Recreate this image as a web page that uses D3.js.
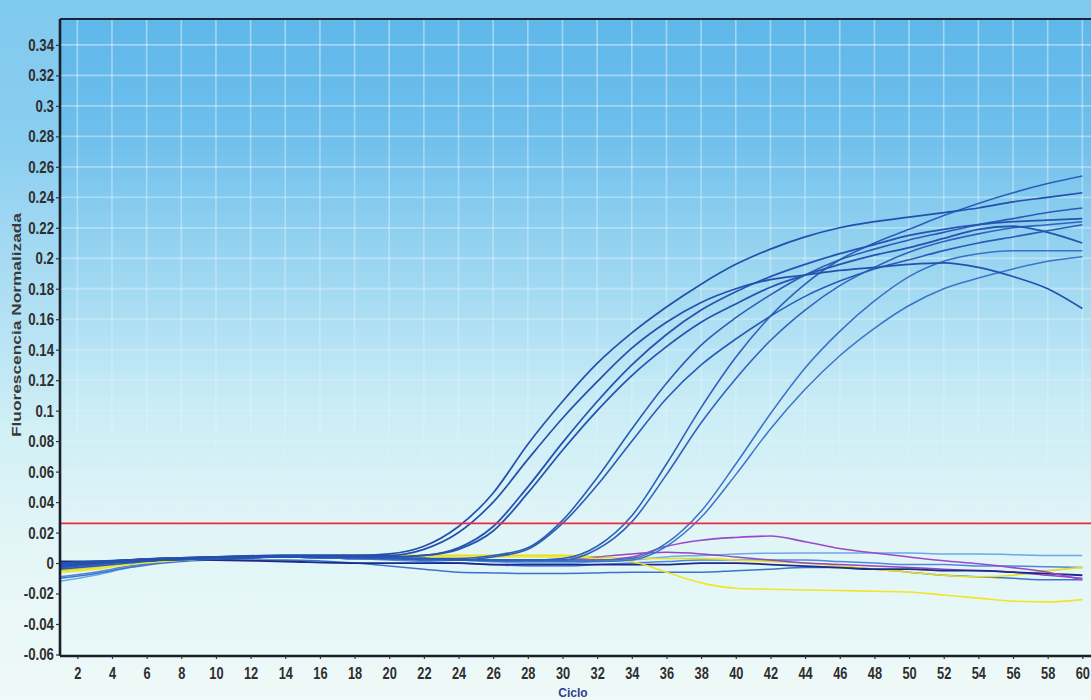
<!DOCTYPE html>
<html><head><meta charset="utf-8">
<script src="https://cdn.jsdelivr.net/npm/d3@7"></script>
<style>
html,body{margin:0;padding:0;background:#fff;}
svg{display:block;}
</style></head><body>
<svg id="chart" width="1091" height="700"></svg>
<script>
// ---------- data ----------
const cycles = [1,3,5,7,10,14,18,20,22,24,26,28,30,32,34,36,38,40,42,44,46,48,50,52,54,56,58,60];
const xTicks = [2,4,6,8,10,12,14,16,18,20,22,24,26,28,30,32,34,36,38,40,42,44,46,48,50,52,54,56,58,60];
const yTicks = [-0.06,-0.04,-0.02,0,0.02,0.04,0.06,0.08,0.1,0.12,0.14,0.16,0.18,0.2,0.22,0.24,0.26,0.28,0.3,0.32,0.34];
const threshold = 0.026;

// amplification curves
const ampA1 = [0.000,0.001,0.002,0.003,0.004,0.005,0.005,0.006,0.011,0.024,0.046,0.078,0.106,0.131,0.151,0.168,0.183,0.196,0.206,0.214,0.220,0.224,0.227,0.230,0.233,0.237,0.240,0.243];
const ampA2 = [-0.002,0.000,0.001,0.002,0.004,0.005,0.005,0.005,0.009,0.020,0.040,0.068,0.095,0.119,0.141,0.158,0.171,0.180,0.186,0.189,0.192,0.194,0.196,0.197,0.194,0.188,0.180,0.167];
const ampB1 = [0.000,0.001,0.002,0.003,0.004,0.004,0.004,0.004,0.005,0.010,0.024,0.050,0.079,0.106,0.130,0.150,0.166,0.178,0.188,0.196,0.203,0.209,0.215,0.219,0.222,0.224,0.225,0.226];
const ampB2 = [-0.001,0.000,0.001,0.002,0.003,0.004,0.004,0.004,0.005,0.009,0.021,0.046,0.074,0.100,0.123,0.142,0.158,0.170,0.181,0.189,0.196,0.202,0.207,0.213,0.219,0.221,0.217,0.210];
const ampC1 = [-0.003,-0.001,0.001,0.002,0.003,0.004,0.004,0.003,0.003,0.003,0.005,0.010,0.028,0.056,0.088,0.118,0.143,0.161,0.176,0.189,0.199,0.206,0.212,0.217,0.222,0.226,0.230,0.233];
const ampC2 = [-0.004,-0.002,0.000,0.002,0.003,0.004,0.004,0.003,0.003,0.002,0.004,0.009,0.026,0.051,0.080,0.108,0.130,0.147,0.162,0.175,0.185,0.193,0.199,0.205,0.210,0.214,0.218,0.222];
const ampD1 = [-0.002,0.000,0.001,0.002,0.003,0.004,0.004,0.003,0.003,0.002,0.002,0.002,0.003,0.011,0.031,0.065,0.102,0.135,0.162,0.183,0.199,0.210,0.219,0.228,0.236,0.243,0.249,0.254];
const ampD2 = [-0.003,-0.001,0.001,0.002,0.003,0.004,0.003,0.003,0.002,0.002,0.002,0.002,0.002,0.009,0.027,0.058,0.092,0.121,0.146,0.166,0.182,0.194,0.204,0.211,0.216,0.220,0.222,0.224];
const ampE1 = [-0.001,0.000,0.001,0.002,0.003,0.004,0.003,0.003,0.003,0.002,0.002,0.002,0.002,0.002,0.003,0.013,0.034,0.065,0.098,0.128,0.152,0.172,0.188,0.198,0.203,0.205,0.205,0.205];
const ampE2 = [-0.002,-0.001,0.001,0.002,0.003,0.004,0.003,0.003,0.002,0.002,0.001,0.001,0.001,0.001,0.002,0.011,0.030,0.058,0.088,0.114,0.136,0.154,0.169,0.180,0.187,0.193,0.198,0.201];

// non-amplifying curves
const purple1 = [-0.002,0.000,0.002,0.003,0.003,0.004,0.003,0.003,0.003,0.002,0.002,0.002,0.002,0.002,0.004,0.011,0.015,0.0168,0.0177,0.014,0.0095,0.0066,0.004,0.0015,-0.0005,-0.003,-0.006,-0.011];
const purple2 = [-0.001,0.000,0.002,0.003,0.003,0.004,0.003,0.003,0.003,0.002,0.002,0.002,0.002,0.004,0.006,0.007,0.006,0.004,0.002,0.000,-0.001,-0.002,-0.003,-0.004,-0.005,-0.006,-0.008,-0.010];
const yellow1 = [-0.006,-0.004,-0.001,0.001,0.003,0.004,0.004,0.004,0.004,0.004,0.004,0.004,0.004,0.003,0.001,-0.006,-0.013,-0.0165,-0.0172,-0.0177,-0.018,-0.0185,-0.019,-0.021,-0.023,-0.025,-0.0255,-0.024];
const yellow2 = [-0.005,-0.003,0.000,0.002,0.003,0.004,0.005,0.005,0.005,0.005,0.005,0.005,0.005,0.004,0.003,0.003,0.003,0.002,0.001,0.000,-0.002,-0.004,-0.006,-0.008,-0.009,-0.008,-0.005,-0.003];
const blue1 = [-0.010,-0.007,-0.003,0.000,0.002,0.002,0.000,-0.002,-0.004,-0.006,-0.0065,-0.0068,-0.0068,-0.0065,-0.006,-0.006,-0.006,-0.005,-0.004,-0.003,-0.003,-0.004,-0.006,-0.008,-0.009,-0.010,-0.011,-0.011];
const blue2 = [-0.012,-0.008,-0.003,0.001,0.003,0.005,0.005,0.004,0.003,0.002,0.001,0.000,0.000,0.001,0.002,0.004,0.005,0.006,0.0065,0.0066,0.0066,0.0066,0.0066,0.006,0.006,0.0055,0.005,0.005];
const blue3 = [-0.009,-0.006,-0.002,0.001,0.003,0.004,0.003,0.002,0.001,0.000,-0.001,-0.002,-0.002,-0.001,0.000,0.001,0.002,0.002,0.002,0.002,0.001,0.000,-0.001,-0.001,-0.002,-0.002,-0.0025,-0.003];
const navy1 = [0.001,0.001,0.002,0.003,0.002,0.001,0.000,0.000,0.000,0.000,-0.001,-0.001,-0.001,-0.001,-0.001,-0.001,0.000,0.000,-0.001,-0.002,-0.003,-0.004,-0.004,-0.005,-0.005,-0.006,-0.007,-0.008];

// ---------- styling / layout ----------
const W = 1091, H = 700;
const L = 60, R = 1091, T = 19, B = 656;
const svg = d3.select('#chart');
const defs = svg.append('defs');

const bg = defs.append('linearGradient').attr('id','bg').attr('x1',0).attr('y1',0).attr('x2',0).attr('y2',1);
[[0,'#80c9ef'],[0.2,'#8acef0'],[0.42,'#aedef3'],[0.62,'#d2f0f6'],[0.8,'#e5f6f7'],[1,'#eff9f8']]
  .forEach(([o,c])=>bg.append('stop').attr('offset',o).attr('stop-color',c));
const pg = defs.append('linearGradient').attr('id','pg').attr('gradientUnits','userSpaceOnUse')
  .attr('x1',0).attr('y1',T).attr('x2',0).attr('y2',B);
[[0,'#5fb7ea'],[0.18,'#6ebfec'],[0.4,'#9dd7f1'],[0.6,'#c9ecf6'],[0.8,'#e0f5f7'],[1,'#e9f8f8']]
  .forEach(([o,c])=>pg.append('stop').attr('offset',o).attr('stop-color',c));
const gg = defs.append('linearGradient').attr('id','gg').attr('gradientUnits','userSpaceOnUse')
  .attr('x1',0).attr('y1',T).attr('x2',0).attr('y2',B);
[[0,0.42],[0.4,0.3],[0.7,0.1],[1,0.03]]
  .forEach(([o,a])=>gg.append('stop').attr('offset',o).attr('stop-color','#ffffff').attr('stop-opacity',a));
defs.append('clipPath').attr('id','clip').append('rect').attr('x',L).attr('y',T).attr('width',R-L).attr('height',B-T);

svg.append('rect').attr('width',W).attr('height',H).attr('fill','url(#bg)');
svg.append('rect').attr('x',L).attr('y',T).attr('width',R-L).attr('height',B-T).attr('fill','url(#pg)');

const x = d3.scaleLinear().domain([1, 60.5]).range([L, R]);
const y = d3.scaleLinear().domain([-0.061, 0.357]).range([B, T]);

// grid
const grid = svg.append('g').attr('clip-path','url(#clip)');
grid.selectAll('line.v').data(xTicks).join('line')
  .attr('x1',d=>x(d)).attr('x2',d=>x(d)).attr('y1',T).attr('y2',B)
  .attr('stroke','url(#gg)').attr('stroke-width',1.6);
grid.selectAll('line.h').data(yTicks).join('line')
  .attr('x1',L).attr('x2',R).attr('y1',d=>y(d)).attr('y2',d=>y(d))
  .attr('stroke','url(#gg)').attr('stroke-width',1.8);

// curves
const line = d3.line().x((d,i)=>x(cycles[i])).y(d=>y(d)).curve(d3.curveMonotoneX);
const baseSeries = [
  {v: blue2, c:'#6ea8e8', w:1.5},
  {v: blue3, c:'#4d88dc', w:1.5},
  {v: blue1, c:'#3b74cf', w:1.5},
  {v: yellow2, c:'#e8dc20', w:1.6},
  {v: purple2, c:'#9447c0', w:1.5},
  {v: navy1, c:'#1c2a86', w:1.8},
  {v: yellow1, c:'#f2e526', w:1.6},
  {v: purple1, c:'#9c48cc', w:1.6}
];
const ampSeries = [
  {v: ampE2, c:'#3d74cb', w:1.5},
  {v: ampE1, c:'#3a70c8', w:1.5},
  {v: ampD2, c:'#2f64bd', w:1.6},
  {v: ampD1, c:'#2c60ba', w:1.6},
  {v: ampC2, c:'#2a5cb7', w:1.6},
  {v: ampC1, c:'#2a5cb7', w:1.6},
  {v: ampB2, c:'#2554b1', w:1.8},
  {v: ampB1, c:'#2554b1', w:1.8},
  {v: ampA2, c:'#2350ad', w:1.7},
  {v: ampA1, c:'#2350ad', w:1.7}
];
const plot = svg.append('g').attr('clip-path','url(#clip)');
plot.selectAll('path.base').data(baseSeries).join('path').attr('class','base')
  .attr('d',d=>line(d.v)).attr('fill','none').attr('stroke',d=>d.c).attr('stroke-width',d=>d.w);
plot.selectAll('path.amp').data(ampSeries).join('path').attr('class','amp')
  .attr('d',d=>line(d.v)).attr('fill','none').attr('stroke',d=>d.c).attr('stroke-width',d=>d.w);

// threshold
plot.append('line').attr('x1',L).attr('x2',R).attr('y1',y(threshold)).attr('y2',y(threshold))
  .attr('stroke','#f2283f').attr('stroke-width',1.7);

// frame / axes
svg.append('line').attr('x1',L).attr('x2',R).attr('y1',T).attr('y2',T).attr('stroke','#1b2535').attr('stroke-width',2);

const font = "'Liberation Sans',Arial,sans-serif";
const fmt = d => String(+d.toFixed(2));

const yAxis = svg.append('g').attr('transform',`translate(${L},0)`)
  .call(d3.axisLeft(y).tickValues(yTicks).tickFormat(fmt).tickSize(4).tickPadding(3));
const xAxis = svg.append('g').attr('transform',`translate(0,${B})`)
  .call(d3.axisBottom(x).tickValues(xTicks).tickFormat(d=>d).tickSize(3).tickPadding(9));
[yAxis,xAxis].forEach(a=>{
  a.select('.domain').attr('stroke','#1a1f2a').attr('stroke-width',2.6);
  a.selectAll('.tick line').attr('stroke','#333').attr('stroke-width',1.2);
  a.selectAll('.tick text').attr('fill','#2e2e2e').style('font-family',font)
    .style('font-weight','bold');
});
yAxis.selectAll('.tick text').style('font-size','17px').attr('x',0).attr('transform','translate(-6,0) scale(0.78,1)');
xAxis.selectAll('.tick text').style('font-size','16px').attr('transform','scale(0.8,1)');
xAxis.select('.domain').attr('d',`M${L},0H${R}`);
yAxis.select('.domain').attr('d',`M0,${T}V${B}`);

// titles
svg.append('text').attr('x',573).attr('y',697).attr('text-anchor','middle')
  .style('font-family',font).style('font-size','12px').style('font-weight','bold')
  .attr('fill','#2d3f92').text('Ciclo');
svg.append('text').attr('transform','translate(21,325) rotate(-90)').attr('text-anchor','middle')
  .attr('textLength',224).attr('lengthAdjust','spacingAndGlyphs')
  .style('font-family',font).style('font-size','13px').style('font-weight','bold')
  .attr('fill','#3a3a3a').text('Fluorescencia Normalizada');
</script>
</body></html>
